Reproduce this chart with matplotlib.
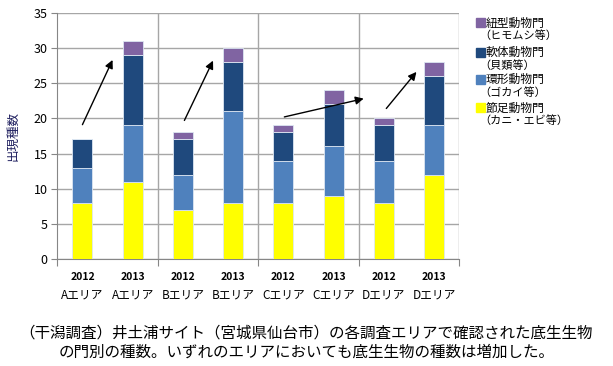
import numpy as np
import matplotlib.pyplot as plt
from matplotlib.patches import Rectangle

plt.rcParams['font.family'] = ['Noto Sans CJK JP', 'DejaVu Sans']

# ==== data ====
years = ["2012", "2013", "2012", "2013", "2012", "2013", "2012", "2013"]
areas = ["Aエリア", "Aエリア", "Bエリア", "Bエリア", "Cエリア", "Cエリア", "Dエリア", "Dエリア"]
arthropoda = [8, 11, 7, 8, 8, 9, 8, 12]      # 節足動物門
annelida = [5, 8, 5, 13, 6, 7, 6, 7]         # 環形動物門
mollusca = [4, 10, 5, 7, 4, 6, 5, 7]         # 軟体動物門
nemertea = [0, 2, 1, 2, 1, 2, 1, 2]          # 紐型動物門

series_names = ["節足動物門", "環形動物門", "軟体動物門", "紐型動物門"]
series_notes = ["（カニ・エビ等）", "（ゴカイ等）", "（貝類等）", "（ヒモムシ等）"]
colors = ["#FFFF00", "#4F81BD", "#1F497D", "#8064A2"]

# arrows (from 2012 bar toward 2013 bar), in data coords
arrow_start = [(0.0, 19.1), (2.03, 19.7), (4.02, 20.2), (6.05, 21.4)]
arrow_end = [(0.6, 28.3), (2.6, 28.2), (5.6, 22.8), (6.65, 26.6)]

caption = ("（干潟調査）井土浦サイト（宮城県仙台市）の各調査エリアで確認された底生生物\n"
           "の門別の種数。いずれのエリアにおいても底生生物の種数は増加した。")

# ==== plotting ====
fig = plt.figure(figsize=(6.13, 3.66), dpi=100)
ax = fig.add_axes([0.0935, 0.2923, 0.6555, 0.6727])

x = np.arange(len(years))
bottom = np.zeros(len(years))
for vals, c in zip([arthropoda, annelida, mollusca, nemertea], colors):
    ax.bar(x, vals, width=0.4, bottom=bottom, color=c,
           edgecolor="#DCE6F2", linewidth=0.6, zorder=3)
    bottom += np.array(vals)

for (x0, y0), (x1, y1) in zip(arrow_start, arrow_end):
    ax.annotate("", xy=(x1, y1), xytext=(x0, y0),
                arrowprops=dict(arrowstyle="-|>", color="black", lw=1.0,
                                mutation_scale=12, shrinkA=0, shrinkB=0),
                zorder=4)

ax.set_xlim(-0.5, 7.5)
ax.set_ylim(0, 35)
ax.set_yticks(range(0, 36, 5))
ax.tick_params(axis="y", labelsize=9, length=4, color="#868686", pad=3)
ax.grid(axis="y", color="#A6A6A6", linewidth=1.0, zorder=0)

# group separators
for b in [1.5, 3.5, 5.5, 7.5]:
    ax.axvline(b, color="#A6A6A6", linewidth=1.0, zorder=0)
ax.set_xticks([-0.5, 1.5, 3.5, 5.5, 7.5])
ax.set_xticklabels([])
ax.tick_params(axis="x", length=5, color="#868686")
for xi, yr, ar in zip(x, years, areas):
    ax.text(xi, -2.6, yr, ha="center", va="center", fontsize=7.5, fontweight="bold")
    ax.text(xi, -5.1, ar, ha="center", va="center", fontsize=8.5)

for s in ["top", "right"]:
    ax.spines[s].set_visible(False)
ax.spines["left"].set_color("#868686")
ax.spines["bottom"].set_color("#868686")

ax.set_ylabel("出現種数", fontsize=9, color="#1F1F5F", labelpad=10)

# legend drawn by hand: square beside the first line only
leg_y = [0.937, 0.857, 0.783, 0.705]
for i, k in enumerate([3, 2, 1, 0]):
    y = leg_y[i]
    fig.patches.append(Rectangle((0.7765, y - 0.012), 0.0145, 0.025,
                                 transform=fig.transFigure, color=colors[k]))
    fig.text(0.792, y, series_names[k], fontsize=8.5, va="center")
    fig.text(0.782, y - 0.035, series_notes[k], fontsize=8, va="center")

fig.text(0.5, 0.065, caption, ha="center", va="center", fontsize=11.2, linespacing=1.15)

plt.savefig("out.png", dpi=100)
plt.close()
